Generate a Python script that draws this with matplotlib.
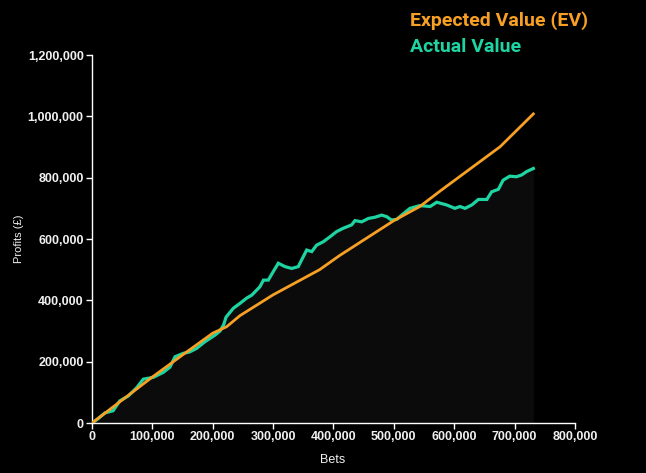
import matplotlib
matplotlib.use("Agg")
import matplotlib.pyplot as plt
from matplotlib.ticker import FuncFormatter

# Expected value line (bets, profit)
ev_bets = [0, 50000, 100000, 150000, 200000, 223000, 245000, 300000, 377000, 410000,
           500000, 543000, 579000, 676000, 731000]
ev_profit = [0, 75000, 150000, 222000, 293000, 314000, 350000, 418000, 500000, 546000,
             660000, 706000, 760000, 901000, 1008000]

# Actual value line (bets, profit)
act_bets = [0, 10000, 21500, 35000, 37000, 46000, 60000, 74000, 85000, 101500,
            118000, 129000, 137500, 151000, 162000, 173000, 187000, 204000, 212000,
            218000, 222000, 234000, 245000, 256000, 264600, 278000, 284000, 292000,
            300000, 308600, 319700, 330800, 341700, 347000, 355600, 364000, 372000,
            383000, 394000, 405000, 416000, 430000, 435600, 446700, 457700, 468700,
            479800, 488000, 496000, 504700, 513000, 526700, 543000, 560000, 571000,
            587500, 601000, 609500, 617800, 629000, 640000, 654000, 662000, 673000,
            681000, 692000, 703000, 711700, 720000, 731000]
act_profit = [0, 14000, 33000, 40000, 46000, 72000, 88000, 115000, 143000, 149000,
              165000, 182000, 216000, 227000, 232000, 243000, 265000, 287000, 300000,
              320000, 345000, 374000, 390000, 407000, 417000, 444000, 466000, 466000,
              493000, 521000, 510000, 504000, 510000, 531000, 564000, 559000, 580000,
              591000, 607000, 624000, 635000, 646000, 660000, 656000, 667000, 671000,
              678000, 673000, 662000, 664000, 678000, 700000, 709000, 706000, 720000,
              711000, 700000, 706000, 700000, 711000, 729000, 729000, 754000, 762000,
              792000, 805000, 803000, 809000, 820000, 830000]

x_ticks = [0, 100000, 200000, 300000, 400000, 500000, 600000, 700000, 800000]
y_ticks = [0, 200000, 400000, 600000, 800000, 1000000, 1200000]

ORANGE = "#f7a024"
GREEN = "#1ed4a2"
TXT = "#f0f0f0"

fig = plt.figure(figsize=(6.46, 4.73), dpi=100, facecolor="black")
ax = fig.add_axes([0.1424, 0.1057, 0.7477, 0.778], facecolor="black")

ax.fill_between(act_bets, act_profit, 0, color="#0b0b0b", linewidth=0, zorder=1)
ax.plot(act_bets, act_profit, color=GREEN, linewidth=2.3, zorder=2,
        solid_joinstyle="miter")
ax.plot(ev_bets, ev_profit, color=ORANGE, linewidth=2.0, zorder=3)

ax.set_xlim(0, 800000)
ax.set_ylim(0, 1200000)
ax.set_xticks(x_ticks)
ax.set_yticks(y_ticks)
fmt = FuncFormatter(lambda v, p: f"{int(v):,}")
ax.xaxis.set_major_formatter(fmt)
ax.yaxis.set_major_formatter(fmt)

for s in ["top", "right"]:
    ax.spines[s].set_visible(False)
for s in ["left", "bottom"]:
    ax.spines[s].set_color("white")
    ax.spines[s].set_linewidth(1.0)

tick_font = ["Liberation Sans", "DejaVu Sans"]
ax.tick_params(colors="white", length=4, width=1, labelsize=9, pad=2)
for lab in ax.get_xticklabels() + ax.get_yticklabels():
    lab.set_family(tick_font)
    lab.set_fontweight("bold")
    lab.set_color(TXT)

ax.set_xlabel("Bets", color=TXT, fontsize=9, family=tick_font)
ax.xaxis.set_label_coords(0.499, -0.085)
ax.set_ylabel("Profits (£)", color=TXT, fontsize=8, family=tick_font)
ax.yaxis.set_label_coords(-0.14, 0.5)

fig.text(0.635, 0.957, "Expected Value (EV)", color=ORANGE, fontsize=14,
         fontweight="bold", family=["Roboto", "DejaVu Sans"], ha="left", va="center")
fig.text(0.635, 0.9, "Actual Value", color=GREEN, fontsize=14,
         fontweight="bold", family=["Roboto", "DejaVu Sans"], ha="left", va="center")

fig.savefig("out.png", dpi=100, facecolor="black")
